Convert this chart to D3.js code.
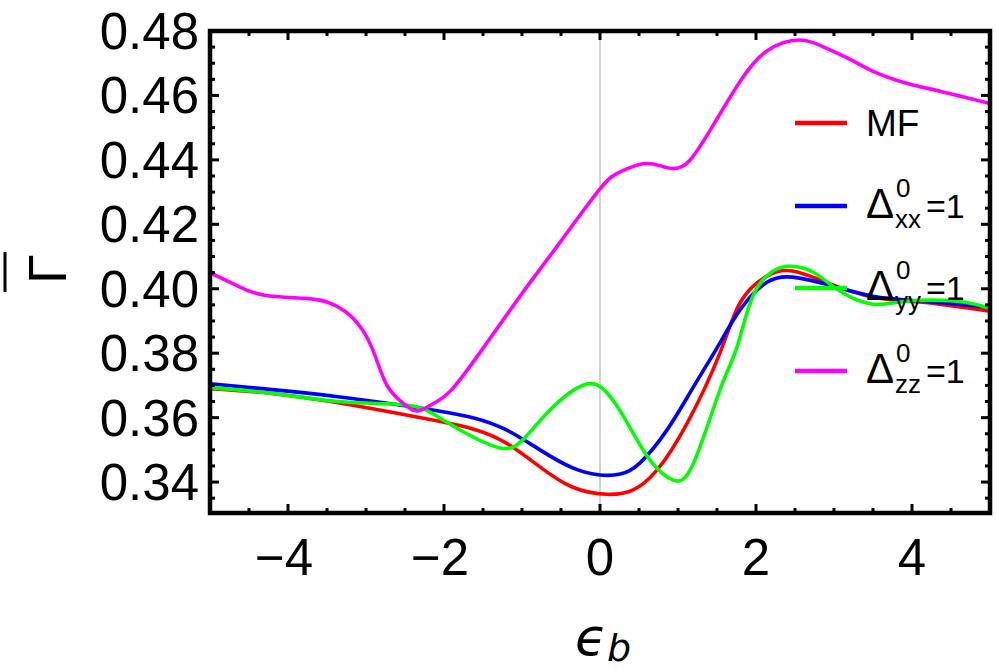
<!DOCTYPE html>
<html>
<head>
<meta charset="utf-8">
<script src="https://cdn.jsdelivr.net/npm/d3@7"></script>
<style>
  body { margin: 0; background: #fff; }
  svg { display: block; }
</style>
</head>
<body>
<svg id="chart" width="997" height="670"></svg>
<script>
// values
var xMF = [-5, -4.2, -3.36, -2.5, -2.05, -1.63, -1.2, -0.77, -0.35, 0.09, 0.42, 0.73, 1.12, 1.54, 1.8, 2.14, 2.47, 2.9, 3.5, 4.14, 5];
var yMF = [0.3690, 0.3675, 0.3646, 0.3609, 0.3588, 0.3565, 0.3521, 0.3447, 0.3384, 0.3362, 0.3375, 0.3437, 0.3584, 0.3802, 0.3958, 0.4039, 0.4055, 0.4020, 0.3974, 0.3958, 0.3930];

var xXX = [-5, -4.2, -3.36, -2.5, -2.05, -1.63, -1.2, -0.77, -0.35, 0, 0.26, 0.51, 0.86, 1.2, 1.54, 1.8, 2.14, 2.47, 2.9, 3.5, 4.14, 5];
var yXX = [0.3705, 0.3687, 0.3665, 0.3637, 0.3620, 0.3600, 0.3562, 0.3500, 0.3444, 0.3422, 0.3425, 0.3459, 0.3562, 0.3696, 0.3833, 0.3936, 0.4020, 0.4036, 0.4014, 0.3977, 0.3961, 0.3942];

var xYY = [-5, -4.2, -3.36, -2.72, -2.33, -2.08, -1.73, -1.28, -0.99, -0.64, -0.2, 0.09, 0.35, 0.64, 0.94, 1.2, 1.54, 1.76, 1.96, 2.22, 2.44, 2.73, 3.08, 3.5, 3.93, 4.58, 5];
var yYY = [0.3693, 0.3675, 0.3650, 0.3643, 0.3632, 0.3603, 0.3553, 0.3506, 0.3531, 0.3624, 0.3702, 0.3677, 0.3584, 0.3469, 0.3406, 0.3459, 0.3687, 0.3821, 0.3977, 0.4055, 0.4070, 0.4052, 0.3992, 0.3952, 0.3961, 0.3961, 0.3939];

var xZZ = [-5, -4.64, -4.3, -3.78, -3.49, -3.27, -3.05, -2.88, -2.72, -2.5, -2.33, -2.12, -1.9, -1.5, -1.0, -0.5, 0, 0.26, 0.55, 0.77, 0.94, 1.15, 1.45, 1.8, 2.14, 2.56, 2.9, 3.2, 3.5, 3.93, 4.36, 5];
var yZZ = [0.4050, 0.4008, 0.3980, 0.3970, 0.3958, 0.3930, 0.3874, 0.3790, 0.3696, 0.3640, 0.3621, 0.3646, 0.3687, 0.3815, 0.3985, 0.4148, 0.4310, 0.4363, 0.4388, 0.4382, 0.4373, 0.4398, 0.4507, 0.4645, 0.4738, 0.4772, 0.4747, 0.4713, 0.4675, 0.4638, 0.4613, 0.4575];

var xTicks = [-4, -2, 0, 2, 4];
var yTicks = [0.34, 0.36, 0.38, 0.40, 0.42, 0.44, 0.46, 0.48];

var series = [
  { name: "MF", sub: null, x: xMF, y: yMF, color: "#ff0000" },
  { name: "Δ", sub: "xx", x: xXX, y: yXX, color: "#0000ff" },
  { name: "Δ", sub: "yy", x: xYY, y: yYY, color: "#00ff00" },
  { name: "Δ", sub: "zz", x: xZZ, y: yZZ, color: "#ff00ff" }
];

// plot frame in pixels
var pLeft = 210, pRight = 990, pTop = 31, pBottom = 513;
var svg = d3.select("#chart");

var x = d3.scaleLinear().domain([-5, 5]).range([pLeft, pRight]);
var y = d3.scaleLinear().domain([0.3304, 0.48]).range([pBottom, pTop]);

// vertical line at 0
svg.append("line")
  .attr("x1", x(0)).attr("x2", x(0))
  .attr("y1", pTop).attr("y2", pBottom)
  .attr("stroke", "#bbbbbb")
  .attr("stroke-width", 1.3);

// curves
var line = d3.line()
  .x(function (d) { return x(d[0]); })
  .y(function (d) { return y(d[1]); })
  .curve(d3.curveNatural);

svg.append("defs").append("clipPath").attr("id", "clip")
  .append("rect").attr("x", pLeft).attr("y", pTop)
  .attr("width", pRight - pLeft).attr("height", pBottom - pTop);

series.forEach(function (s) {
  var pts = s.x.map(function (v, i) { return [v, s.y[i]]; });
  svg.append("path")
    .attr("d", line(pts))
    .attr("fill", "none")
    .attr("stroke", s.color)
    .attr("stroke-width", 3.6)
    .attr("clip-path", "url(#clip)");
});

// minor / major ticks on all four sides
var xMinor = d3.range(-5, 5.01, 0.5);
var yMinor = d3.range(0.335, 0.4801, 0.005);
var tickG = svg.append("g").attr("stroke", "#000").attr("stroke-width", 3);

xMinor.forEach(function (v) {
  var major = Math.abs(v % 2) < 1e-6;
  var len = major ? 9 : 5;
  tickG.append("line").attr("x1", x(v)).attr("x2", x(v)).attr("y1", pBottom).attr("y2", pBottom - len);
  tickG.append("line").attr("x1", x(v)).attr("x2", x(v)).attr("y1", pTop).attr("y2", pTop + len);
});
yMinor.forEach(function (v) {
  var k = Math.round(v * 1000);
  var major = k % 20 == 0;
  var len = major ? 9 : 5;
  tickG.append("line").attr("y1", y(v)).attr("y2", y(v)).attr("x1", pLeft).attr("x2", pLeft + len);
  tickG.append("line").attr("y1", y(v)).attr("y2", y(v)).attr("x1", pRight).attr("x2", pRight - len);
});

// frame
svg.append("rect")
  .attr("x", pLeft).attr("y", pTop)
  .attr("width", pRight - pLeft).attr("height", pBottom - pTop)
  .attr("fill", "none")
  .attr("stroke", "#000")
  .attr("stroke-width", 4.5);

// tick labels
var fontNum = "'Liberation Sans', Arial, sans-serif";
svg.append("g").selectAll("text")
  .data(xTicks).enter().append("text")
  .attr("x", function (d) { return x(d) - (d < 0 ? 4 : 0); })
  .attr("y", 575)
  .attr("text-anchor", "middle")
  .attr("font-family", fontNum)
  .attr("font-size", 51)
  .text(function (d) { return d < 0 ? "\u2212" + Math.abs(d) : d; });

svg.append("g").selectAll("text")
  .data(yTicks).enter().append("text")
  .attr("x", 199)
  .attr("y", function (d) { return y(d) + 18; })
  .attr("text-anchor", "end")
  .attr("font-family", fontNum)
  .attr("font-size", 51)
  .text(function (d) { return d.toFixed(2); });

// axis labels
svg.append("text")
  .attr("transform", "translate(66,269) rotate(-90)")
  .attr("text-anchor", "middle")
  .attr("font-family", fontNum)
  .attr("font-size", 54)
  .text("Γ");
svg.append("line")
  .attr("x1", 5).attr("x2", 5)
  .attr("y1", 252).attr("y2", 292)
  .attr("stroke", "#000").attr("stroke-width", 3);

var xl = svg.append("text")
  .attr("x", 575).attr("y", 655)
  .attr("font-family", "'DejaVu Sans', sans-serif")
  .attr("font-style", "italic");
xl.append("tspan").attr("font-size", 52).text("ϵ");
xl.append("tspan").attr("font-size", 38).attr("dy", 6).text("b");

// legend
var legY = [123, 206, 288, 371];
series.forEach(function (s, i) {
  var ly = legY[i];
  svg.append("line")
    .attr("x1", 795).attr("x2", 847)
    .attr("y1", ly).attr("y2", ly)
    .attr("stroke", s.color)
    .attr("stroke-width", 4.5);
  if (!s.sub) {
    svg.append("text")
      .attr("x", 866).attr("y", ly + 13)
      .attr("font-family", fontNum)
      .attr("font-size", 37)
      .text(s.name);
  } else {
    var g = svg.append("g").attr("font-family", fontNum);
    g.append("text").attr("x", 866).attr("y", ly + 12).attr("font-size", 42).text(s.name);
    g.append("text").attr("x", 896).attr("y", ly - 9).attr("font-size", 26).text("0");
    g.append("text").attr("x", 895).attr("y", ly + 22).attr("font-size", 26).text(s.sub);
    g.append("text").attr("x", 926).attr("y", ly + 12).attr("font-size", 34).text("=1");
  }
});
</script>
</body>
</html>
